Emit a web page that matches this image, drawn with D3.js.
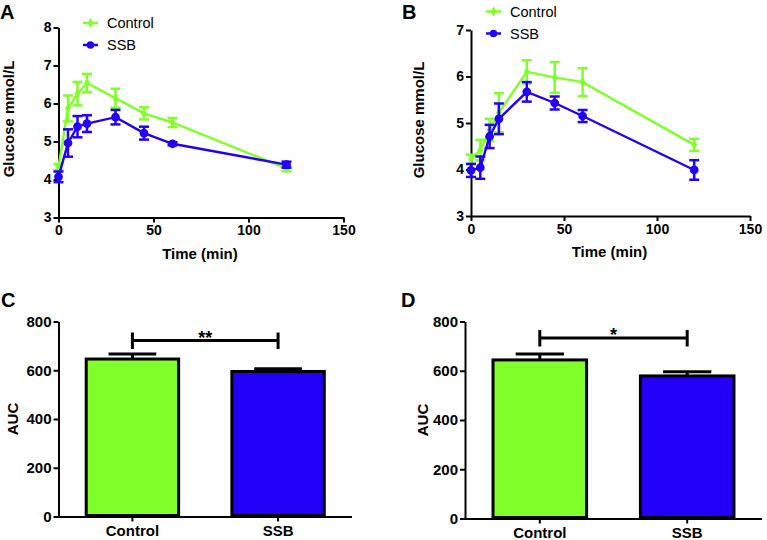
<!DOCTYPE html>
<html>
<head>
<meta charset="utf-8">
<script src="https://cdn.jsdelivr.net/npm/d3@7"></script>
<style>
  html, body { margin: 0; padding: 0; background: #fff; }
  svg { display: block; font-family: "Liberation Sans", Arial, sans-serif; }
</style>
</head>
<body>
<svg id="chart" width="767" height="540"></svg>
<script>
// ---------- data ----------
const times = [0, 5, 10, 15, 30, 45, 60, 120];
const seriesNames = ["Control", "SSB"];

const controlA    = [4.33, 5.87, 6.26, 6.54, 6.14, 5.74, 5.50, 4.29];
const controlAErr = [0.08, 0.34, 0.31, 0.24, 0.25, 0.16, 0.12, 0.07];
const ssbA        = [4.07, 4.96, 5.39, 5.47, 5.64, 5.22, 4.94, 4.39];
const ssbAErr     = [0.14, 0.36, 0.28, 0.22, 0.19, 0.17, 0.04, 0.08];

const controlB    = [4.22, 4.42, 4.85, 5.22, 6.10, 5.98, 5.88, 4.53];
const controlBErr = [0.10, 0.22, 0.24, 0.42, 0.25, 0.33, 0.30, 0.13];
const ssbB        = [3.98, 4.04, 4.71, 5.09, 5.67, 5.43, 5.15, 3.99];
const ssbBErr     = [0.14, 0.24, 0.25, 0.33, 0.21, 0.14, 0.13, 0.21];

const xTicks  = [0, 50, 100, 150];
const yTicksA = [3, 4, 5, 6, 7, 8];
const yTicksB = [3, 4, 5, 6, 7];

const aucC    = [646, 595];
const aucCErr = [21, 11];
const aucD    = [644, 579];
const aucDErr = [24, 17];
const aucTicks = [0, 200, 400, 600, 800];
const sigC = ["**", 722];
const sigD = ["*", 733];

const panelLetters = ["A", "B", "C", "D"];
const xTitle = "Time (min)";
const yTitleLine = "Glucose mmol/L";
const yTitleBar = "AUC";

// ---------- styles ----------
const GREEN = "#80ff2b";
const BLUE = "#2200f8";
const colors = [GREEN, BLUE];

const svg = d3.select("#chart");

function styleAxis(g, fs) {
  g.selectAll("path.domain").attr("stroke", "#000").attr("stroke-width", 2);
  g.selectAll(".tick line").attr("stroke", "#000").attr("stroke-width", 2);
  g.selectAll(".tick text")
    .attr("font-family", "'Liberation Sans', Arial, sans-serif")
    .attr("font-weight", "bold").attr("font-size", fs).attr("fill", "#000");
}

function linePanel(cfg) {
  const x = d3.scaleLinear().domain([0, 150]).range([cfg.x0, cfg.x1]);
  const y = d3.scaleLinear().domain(cfg.yDomain).range([cfg.yb, cfg.yt]);
  const g = svg.append("g");

  const xa = g.append("g").attr("transform", `translate(0,${cfg.yb})`)
    .call(d3.axisBottom(x).tickValues(xTicks).tickSize(5).tickSizeOuter(0).tickPadding(3));
  styleAxis(xa, 14);
  const ya = g.append("g").attr("transform", `translate(${cfg.x0},0)`)
    .call(d3.axisLeft(y).tickValues(cfg.yTicks).tickFormat(d3.format("d")).tickSize(5).tickSizeOuter(0).tickPadding(2));
  styleAxis(ya, 14);

  const series = [
    {vals: cfg.c, err: cfg.ce, color: GREEN, marker: "diamond"},
    {vals: cfg.s, err: cfg.se, color: BLUE, marker: "circle"}
  ];
  series.forEach(s => {
    const pts = times.map((t, i) => ({t, v: s.vals[i], e: s.err[i]}));
    g.append("path").datum(pts)
      .attr("fill", "none").attr("stroke", s.color).attr("stroke-width", 2.4)
      .attr("d", d3.line().x(d => x(d.t)).y(d => y(d.v)));
    const eb = g.append("g").attr("stroke", s.color).attr("stroke-width", 2.5).attr("fill", "none");
    pts.forEach(d => {
      const cx = x(d.t), yt = y(d.v + d.e), yb = y(d.v - d.e);
      eb.append("line").attr("x1", cx).attr("x2", cx).attr("y1", yt).attr("y2", yb);
      eb.append("line").attr("x1", cx - 5).attr("x2", cx + 5).attr("y1", yt).attr("y2", yt);
      eb.append("line").attr("x1", cx - 5).attr("x2", cx + 5).attr("y1", yb).attr("y2", yb);
    });
    const sym = s.marker === "circle" ? d3.symbol(d3.symbolCircle, 60) : d3.symbol(d3.symbolDiamond, 30);
    g.append("g").selectAll("path").data(pts).join("path")
      .attr("transform", d => `translate(${x(d.t)},${y(d.v)})`)
      .attr("d", sym()).attr("fill", s.color);
  });

  // legend
  seriesNames.forEach((name, i) => {
    const ly = cfg.legY[i];
    g.append("line").attr("x1", cfg.legX).attr("x2", cfg.legX + 15)
      .attr("y1", ly).attr("y2", ly).attr("stroke", colors[i]).attr("stroke-width", 2.5);
    const sym = i === 1 ? d3.symbol(d3.symbolCircle, 45) : d3.symbol(d3.symbolDiamond, 28);
    g.append("path").attr("transform", `translate(${cfg.legX + 7.5},${ly})`).attr("d", sym()).attr("fill", colors[i]);
    g.append("text").attr("x", cfg.legX + 24).attr("y", ly + 5)
      .attr("font-size", 14.5).attr("fill", "#000").text(name);
  });

  // titles
  g.append("text").attr("x", (cfg.x0 + cfg.x1) / 2 - 1).attr("y", cfg.yb + 41)
    .attr("text-anchor", "middle").attr("font-weight", "bold").attr("font-size", 15).text(xTitle);
  g.append("text").attr("transform", `translate(${cfg.ytx},${cfg.yty}) rotate(-90)`)
    .attr("text-anchor", "middle").attr("font-weight", "bold").attr("font-size", 15).text(yTitleLine);
  g.append("text").attr("x", cfg.lx).attr("y", cfg.ly)
    .attr("font-weight", "bold").attr("font-size", 20).text(cfg.letter);
}

function barPanel(cfg) {
  const x = d3.scaleBand().domain(seriesNames).range([cfg.x0, cfg.x1]).paddingInner(0.345).paddingOuter(0.18);
  const y = d3.scaleLinear().domain([0, 800]).range([cfg.yb, cfg.yt]);
  const g = svg.append("g");
  const bw = x.bandwidth();

  // bars
  seriesNames.forEach((n, i) => {
    const cx = x(n) + bw / 2;
    const top = y(cfg.vals[i]), et = y(cfg.vals[i] + cfg.err[i]);
    g.append("line").attr("x1", cx).attr("x2", cx).attr("y1", top).attr("y2", et)
      .attr("stroke", "#000").attr("stroke-width", 3);
    g.append("line").attr("x1", cx - bw / 4).attr("x2", cx + bw / 4).attr("y1", et).attr("y2", et)
      .attr("stroke", "#000").attr("stroke-width", 3);
    g.append("rect").attr("x", x(n) + 1.5).attr("y", top).attr("width", bw - 3).attr("height", y(0) - top - 1)
      .attr("fill", colors[i]).attr("stroke", "#000").attr("stroke-width", 3);
  });

  const xa = g.append("g").attr("transform", `translate(0,${cfg.yb})`)
    .call(d3.axisBottom(x).tickSize(5).tickSizeOuter(0).tickPadding(4));
  styleAxis(xa, 15);
  xa.select("path.domain").attr("d", `M${cfg.x0},0.5H${cfg.x1}`);
  const ya = g.append("g").attr("transform", `translate(${cfg.x0},0)`)
    .call(d3.axisLeft(y).tickValues(aucTicks).tickSize(5).tickSizeOuter(0).tickPadding(2));
  styleAxis(ya, 15);

  // significance bracket
  const c0 = x(seriesNames[0]) + bw / 2, c1 = x(seriesNames[1]) + bw / 2;
  const by = y(cfg.sig[1]);
  const br = g.append("g").attr("stroke", "#000").attr("stroke-width", 3);
  br.append("line").attr("x1", c0).attr("x2", c1).attr("y1", by).attr("y2", by);
  br.append("line").attr("x1", c0).attr("x2", c0).attr("y1", by - 8).attr("y2", by + 8.5);
  br.append("line").attr("x1", c1).attr("x2", c1).attr("y1", by - 8).attr("y2", by + 8.5);
  g.append("text").attr("x", (c0 + c1) / 2).attr("y", by + 3)
    .attr("text-anchor", "middle").attr("font-weight", "bold").attr("font-size", 18).text(cfg.sig[0]);

  g.append("text").attr("transform", `translate(${cfg.ytx},${(cfg.yt + cfg.yb) / 2}) rotate(-90)`)
    .attr("text-anchor", "middle").attr("font-weight", "bold").attr("font-size", 15).text(yTitleBar);
  g.append("text").attr("x", cfg.lx).attr("y", cfg.ly)
    .attr("font-weight", "bold").attr("font-size", 20).text(cfg.letter);
}

linePanel({x0: 58.5, x1: 343.5, yb: 217.5, yt: 27.5, yDomain: [3, 8], yTicks: yTicksA,
  c: controlA, ce: controlAErr, s: ssbA, se: ssbAErr,
  legX: 83, legY: [23, 45], ytx: 14, yty: 119, lx: 0, ly: 19, letter: panelLetters[0]});
linePanel({x0: 471, x1: 750, yb: 216, yt: 30, yDomain: [3, 7], yTicks: yTicksB,
  c: controlB, ce: controlBErr, s: ssbB, se: ssbBErr,
  legX: 486, legY: [11.5, 33.5], ytx: 424, yty: 120, lx: 402, ly: 19, letter: panelLetters[1]});
barPanel({x0: 58.5, x1: 352, yb: 516.5, yt: 321.5, vals: aucC, err: aucCErr, sig: sigC,
  ytx: 18, lx: 1, ly: 307, letter: panelLetters[2]});
barPanel({x0: 465, x1: 762, yb: 518.5, yt: 321.5, vals: aucD, err: aucDErr, sig: sigD,
  ytx: 428, lx: 401, ly: 307, letter: panelLetters[3]});
</script>
</body>
</html>
